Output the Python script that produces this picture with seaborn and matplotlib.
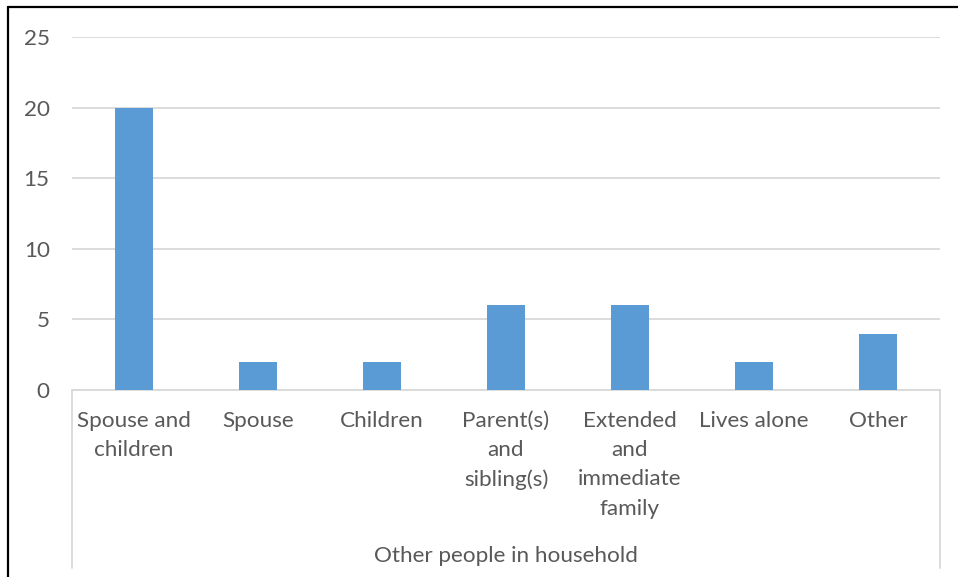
import matplotlib
matplotlib.use("Agg")
import pandas as pd
import seaborn as sns
import matplotlib.pyplot as plt
from matplotlib.lines import Line2D

categories = ["Spouse and\nchildren", "Spouse", "Children", "Parent(s)\nand\nsibling(s)",
              "Extended\nand\nimmediate\nfamily", "Lives alone", "Other"]
counts = [20, 2, 2, 6, 6, 2, 4]
y_ticks = [0, 5, 10, 15, 20, 25]
axis_title = "Other people in household"

sns.set_style("white")
plt.rcParams['font.family'] = ['Lato', 'DejaVu Sans']

text_color = "#595959"
grid_color = "#D9D9D9"
bar_color = "#5B9BD5"
fs = 16.2

df = pd.DataFrame({"category": categories, "count": counts})

fig = plt.figure(figsize=(9.58, 5.77), dpi=100)
ax = fig.add_axes([72 / 958, 1 - 390 / 577, 868 / 958, 353 / 577])

sns.barplot(data=df, x="category", y="count", color=bar_color, width=0.31,
            saturation=1, linewidth=0, ax=ax, zorder=3)

ax.set_ylim(0, 25)
ax.set_xlim(-0.5, len(categories) - 0.5)
ax.set_yticks(y_ticks)
ax.yaxis.grid(True, color=grid_color, linewidth=1.3)
ax.set_axisbelow(True)
for s in ["top", "right", "left"]:
    ax.spines[s].set_visible(False)
ax.spines["bottom"].set_color(grid_color)
ax.spines["bottom"].set_linewidth(1.3)

ax.tick_params(axis="y", length=0, pad=16, labelsize=fs, labelcolor=text_color)
ax.tick_params(axis="x", length=0, pad=15, labelsize=fs, labelcolor=text_color)
for lbl in ax.get_xticklabels():
    lbl.set_fontsize(fs)
    lbl.set_linespacing(1.58)
for lbl in ax.get_yticklabels():
    lbl.set_fontsize(fs)
ax.set_xlabel("")
ax.set_ylabel("")

# multi-level category axis dividers
for xa in (0, 1):
    ax.add_line(Line2D([xa, xa], [0, -0.505], transform=ax.transAxes, color=grid_color,
                       linewidth=1.3, clip_on=False))
ax.text(0.5, -0.4695, axis_title, transform=ax.transAxes, ha="center", va="center",
        fontsize=fs, color=text_color)

# chart frame (cropped)
fig.add_artist(Line2D([8 / 958, 8 / 958], [0, 1 - 7 / 577], transform=fig.transFigure,
                      color="black", linewidth=1.6))
fig.add_artist(Line2D([8 / 958, 1], [1 - 7 / 577, 1 - 7 / 577], transform=fig.transFigure,
                      color="black", linewidth=1.6))

fig.savefig("out.png", dpi=100)
